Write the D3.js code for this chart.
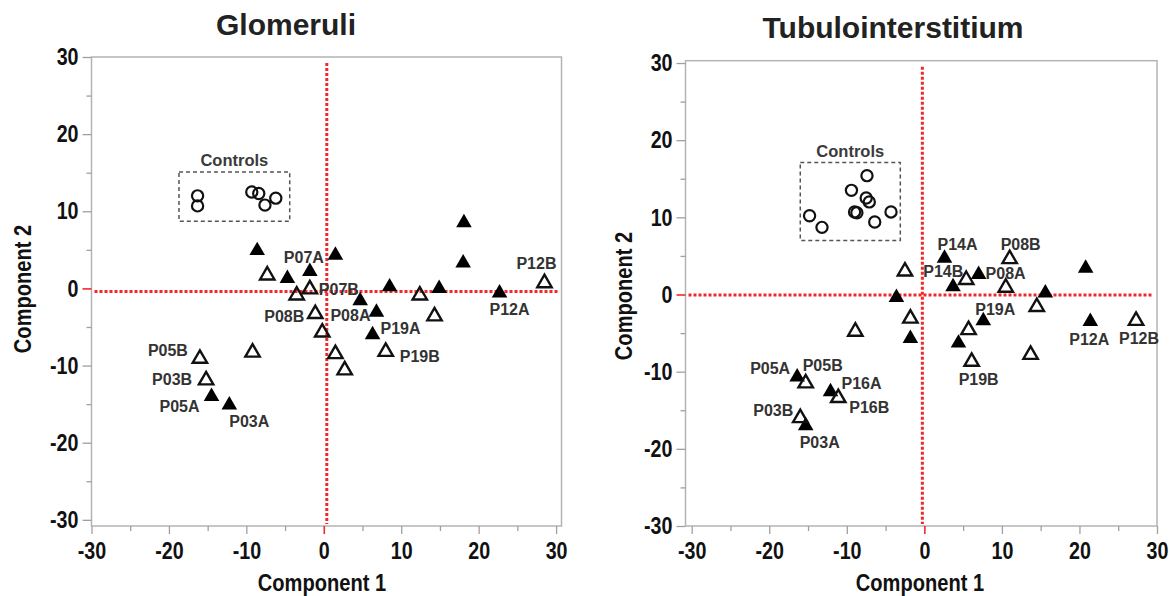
<!DOCTYPE html>
<html lang="en">
<head>
<meta charset="UTF-8">
<title>PCA scores: Glomeruli / Tubulointerstitium</title>
<script src="https://d3js.org/d3.v7.min.js"></script>
<style>
  body { margin: 0; background: #fff; }
  svg { display: block; font-family: "Liberation Sans", Arial, sans-serif; }
</style>
</head>
<body>
<svg id="chart" width="1170" height="596"></svg>
<script>
// tick values shared by both panels
const majorTicks = [-30, -20, -10, 0, 10, 20, 30];
const minorTicks = [-25, -15, -5, 5, 15, 25];

// Glomeruli: filled triangles (A), open triangles (B), controls (circles)
const glomA = [
  {id: '', x: -8.6, y: 4.9}, {id: '', x: -4.7, y: 1.3}, {id: 'P07A', x: -1.8, y: 2.2},
  {id: '', x: 1.5, y: 4.3}, {id: '', x: 8.5, y: 0.2}, {id: '', x: 14.9, y: 0.0},
  {id: '', x: 18.1, y: 8.5}, {id: '', x: 18.0, y: 3.3}, {id: 'P12A', x: 22.7, y: -0.6},
  {id: '', x: 4.7, y: -1.6}, {id: 'P08A', x: 6.8, y: -3.1}, {id: 'P19A', x: 6.3, y: -6.0},
  {id: 'P05A', x: -14.5, y: -14.0}, {id: 'P03A', x: -12.2, y: -15.1}
];
const glomB = [
  {id: '', x: -7.3, y: 1.7}, {id: '', x: -3.5, y: -0.9}, {id: 'P07B', x: -1.8, y: -0.1},
  {id: '', x: 12.4, y: -0.9}, {id: 'P12B', x: 28.5, y: 0.7}, {id: 'P08B', x: -1.1, y: -3.3},
  {id: '', x: 14.3, y: -3.6}, {id: '', x: -0.2, y: -5.7}, {id: 'P19B', x: 8.0, y: -8.2},
  {id: '', x: 1.5, y: -8.5}, {id: '', x: 2.7, y: -10.6}, {id: '', x: -9.2, y: -8.3},
  {id: 'P05B', x: -16.0, y: -9.1}, {id: 'P03B', x: -15.2, y: -11.9}
];
const glomCtrl = [
  {x: -16.3, y: 12.0}, {x: -16.3, y: 10.7}, {x: -9.3, y: 12.5},
  {x: -8.4, y: 12.3}, {x: -7.6, y: 10.8}, {x: -6.2, y: 11.7}
];
const glomBox = [-18.7, 15.1, -4.4, 8.7]; // x0, y0, x1, y1

// Tubulointerstitium
const tubA = [
  {id: 'P14A', x: 2.6, y: 4.7}, {id: 'P08A', x: 7.0, y: 2.6}, {id: '', x: 3.7, y: 1.0},
  {id: '', x: 20.8, y: 3.4}, {id: '', x: 15.6, y: 0.2}, {id: '', x: -3.6, y: -0.4},
  {id: 'P19A', x: 7.6, y: -3.4}, {id: '', x: -1.8, y: -5.7}, {id: '', x: 4.4, y: -6.3},
  {id: 'P12A', x: 21.4, y: -3.5}, {id: 'P05A', x: -16.4, y: -10.7},
  {id: 'P16A', x: -12.1, y: -12.6}, {id: 'P03A', x: -15.3, y: -17.0}
];
const tubB = [
  {id: '', x: -2.5, y: 3.0}, {id: 'P08B', x: 11.0, y: 4.6}, {id: 'P14B', x: 5.4, y: 1.9},
  {id: '', x: 10.5, y: 0.9}, {id: '', x: 14.5, y: -1.6}, {id: '', x: -1.8, y: -3.1},
  {id: '', x: 5.7, y: -4.6}, {id: '', x: -8.9, y: -4.8}, {id: 'P19B', x: 6.1, y: -8.7},
  {id: '', x: 13.7, y: -7.8}, {id: 'P12B', x: 27.3, y: -3.4}, {id: 'P05B', x: -15.3, y: -11.5},
  {id: 'P16B', x: -11.1, y: -13.4}, {id: 'P03B', x: -16.0, y: -16.0}
];
const tubCtrl = [
  {x: -14.8, y: 10.2}, {x: -13.2, y: 8.7}, {x: -9.4, y: 13.5}, {x: -7.4, y: 15.4},
  {x: -7.5, y: 12.5}, {x: -7.1, y: 12.0}, {x: -9.0, y: 10.7}, {x: -8.7, y: 10.6},
  {x: -6.4, y: 9.4}, {x: -4.3, y: 10.7}
];
const tubBox = [-16.0, 17.1, -3.1, 7.0];

// label placement (pixel offsets from the marker: centre x, baseline y)
const glomLabelPos = {
  P07A: [-6, -8], P07B: [29, 6], P12B: [-8, -14], P12A: [10, 22],
  P08B: [-31, 8], P08A: [-26, 9], P19A: [28, -1], P19B: [34, 10],
  P05B: [-32, -3], P03B: [-34, 5], P05A: [-32, 16], P03A: [20, 22]
};
const tubLabelPos = {
  P14A: [13, -8], P08B: [11, -9], P14B: [-23, -3], P08A: [27, 5],
  P19A: [12, -6], P12A: [-1, 23], P12B: [3, 23], P19B: [7, 23],
  P05A: [-27, -3], P05B: [17, -12], P16A: [31, -3], P16B: [31, 15],
  P03B: [-27, -2], P03A: [14, 22]
};

const panels = [
  {title: 'Glomeruli', A: glomA, B: glomB, ctrl: glomCtrl, box: glomBox, labels: glomLabelPos,
   left: 91.5, right: 561.5, top: 57, bottom: 526, xDom: [-30, 30.7], yDom: [-30.8, 30],
   titleX: 286, titleY: 35, yTitleX: 31, yTitleY: 289, xTitleX: 322, refShift: [3, 3]},
  {title: 'Tubulointerstitium', A: tubA, B: tubB, ctrl: tubCtrl, box: tubBox, labels: tubLabelPos,
   left: 685.5, right: 1157, top: 60.7, bottom: 526, xDom: [-30.8, 30], yDom: [-30, 30.3],
   titleX: 893, titleY: 38, yTitleX: 632, yTitleY: 296, xTitleX: 920, refShift: [-2, 0.5]}
];

const svg = d3.select('#chart');
const NARROW = 0.82;
const red = '#f0282a';

// horizontal squeeze around each text's own x, to mimic a narrow bold face
function squeeze(sel, k) {
  sel.each(function () {
    const x = +this.getAttribute('x') || 0;
    d3.select(this).attr('transform', `translate(${x},0) scale(${k},1) translate(${-x},0)`);
  });
}

panels.forEach(p => {
  const x = d3.scaleLinear().domain(p.xDom).range([p.left, p.right]);
  const y = d3.scaleLinear().domain(p.yDom).range([p.bottom, p.top]);
  const g = svg.append('g');

  // title
  g.append('text')
    .attr('x', p.titleX).attr('y', p.titleY)
    .attr('text-anchor', 'middle')
    .attr('font-size', 30).attr('font-weight', 'bold').attr('fill', '#222')
    .text(p.title);

  // frame
  g.append('rect')
    .attr('x', p.left).attr('y', p.top)
    .attr('width', p.right - p.left).attr('height', p.bottom - p.top)
    .attr('fill', 'none').attr('stroke', '#b4b4b4').attr('stroke-width', 1.5);

  // axes
  const styleAxis = ax => {
    ax.select('.domain').remove();
    ax.selectAll('line').attr('stroke', '#a0a0a0').attr('stroke-width', 1.3);
  };
  const fmt = d => String(d); // plain hyphen minus, as in the figure
  const xMinor = g.append('g').attr('transform', `translate(0,${p.bottom})`)
    .call(d3.axisBottom(x).tickValues(minorTicks).tickSize(5).tickFormat(''));
  styleAxis(xMinor);
  const xMajor = g.append('g').attr('transform', `translate(0,${p.bottom})`)
    .call(d3.axisBottom(x).tickValues(majorTicks).tickSize(8).tickPadding(8).tickFormat(fmt));
  styleAxis(xMajor);
  const yMinor = g.append('g').attr('transform', `translate(${p.left},0)`)
    .call(d3.axisLeft(y).tickValues(minorTicks).tickSize(5).tickFormat(''));
  styleAxis(yMinor);
  const yMajor = g.append('g').attr('transform', `translate(${p.left},0)`)
    .call(d3.axisLeft(y).tickValues(majorTicks).tickSize(9).tickPadding(4).tickFormat(fmt));
  styleAxis(yMajor);

  [xMajor, yMajor].forEach(ax => {
    ax.selectAll('.tick').filter(d => d === 0).select('line').attr('stroke', red).attr('stroke-width', 1.6);
    const t = ax.selectAll('text')
      .attr('font-size', 24).attr('font-weight', 'bold').attr('fill', '#111')
      .attr('font-family', '"Liberation Sans", Arial, sans-serif');
    squeeze(t, NARROW);
  });

  // axis titles
  const xt = g.append('text')
    .attr('x', p.xTitleX).attr('y', 591)
    .attr('text-anchor', 'middle')
    .attr('font-size', 24.5).attr('font-weight', 'bold').attr('fill', '#111')
    .text('Component 1');
  squeeze(xt, NARROW);
  g.append('g')
    .attr('transform', `translate(${p.yTitleX},${p.yTitleY}) rotate(-90)`)
    .append('text')
    .attr('x', 0).attr('y', 0)
    .attr('text-anchor', 'middle')
    .attr('font-size', 24.5).attr('font-weight', 'bold').attr('fill', '#111')
    .attr('transform', `scale(${NARROW},1)`)
    .text('Component 2');

  // red dotted reference lines through zero
  const [sx, sy] = p.refShift;
  g.append('line')
    .attr('x1', x(0) + sx).attr('x2', x(0) + sx)
    .attr('y1', p.top + 6).attr('y2', p.bottom - 2)
    .attr('stroke', red).attr('stroke-width', 3).attr('stroke-dasharray', '3,2');
  g.append('line')
    .attr('x1', p.left + 3).attr('x2', p.right - 4)
    .attr('y1', y(0) + sy).attr('y2', y(0) + sy)
    .attr('stroke', red).attr('stroke-width', 3).attr('stroke-dasharray', '3,2');

  // controls box and label
  const [bx0, by0, bx1, by1] = p.box;
  g.append('rect')
    .attr('x', x(bx0)).attr('y', y(by0))
    .attr('width', x(bx1) - x(bx0)).attr('height', y(by1) - y(by0))
    .attr('fill', 'none').attr('stroke', '#555').attr('stroke-width', 1.5)
    .attr('stroke-dasharray', '4,3');
  g.append('text')
    .attr('x', (x(bx0) + x(bx1)) / 2).attr('y', y(by0) - 6)
    .attr('text-anchor', 'middle')
    .attr('font-size', 16.5).attr('font-weight', 'bold').attr('fill', '#3a3a3a')
    .text('Controls');

  // controls: open circles
  g.append('g').selectAll('circle')
    .data(p.ctrl)
    .join('circle')
    .attr('cx', d => x(d.x)).attr('cy', d => y(d.y))
    .attr('r', 5.6)
    .attr('fill', 'none').attr('stroke', '#111').attr('stroke-width', 2.2);

  // filled triangles
  g.append('g').selectAll('path')
    .data(p.A)
    .join('path')
    .attr('transform', d => `translate(${x(d.x)},${y(d.y)})`)
    .attr('d', d3.symbol(d3.symbolTriangle, 105))
    .attr('fill', '#000');

  // open triangles
  g.append('g').selectAll('path')
    .data(p.B)
    .join('path')
    .attr('transform', d => `translate(${x(d.x)},${y(d.y)})`)
    .attr('d', d3.symbol(d3.symbolTriangle, 90))
    .attr('fill', 'none').attr('stroke', '#111').attr('stroke-width', 2.4)
    .attr('stroke-linejoin', 'miter');

  // sample labels
  const labelled = p.A.concat(p.B).filter(d => d.id && p.labels[d.id]);
  g.append('g').selectAll('text')
    .data(labelled)
    .join('text')
    .attr('x', d => x(d.x) + p.labels[d.id][0])
    .attr('y', d => y(d.y) + p.labels[d.id][1])
    .attr('text-anchor', 'middle')
    .attr('font-size', 16).attr('font-weight', 'bold').attr('fill', '#333')
    .text(d => d.id);
});
</script>
</body>
</html>
